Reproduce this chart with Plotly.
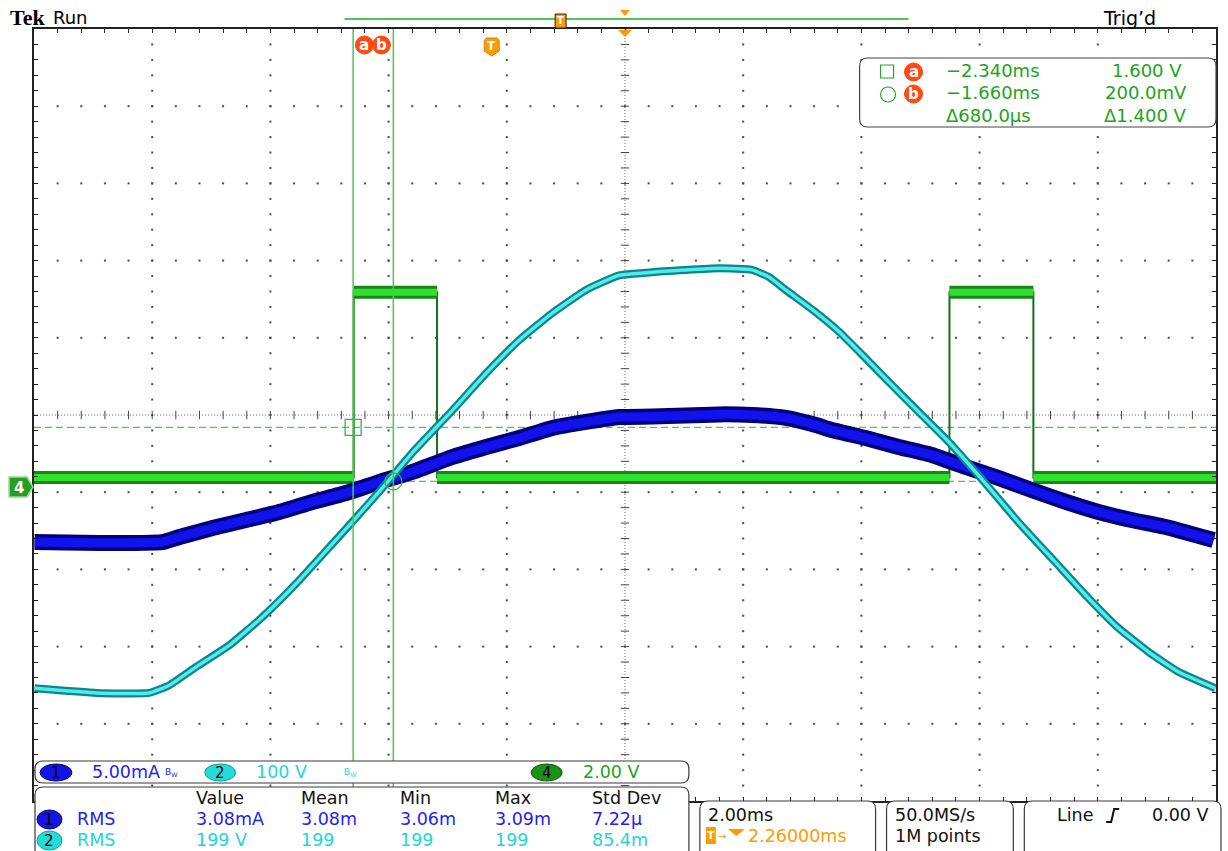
import plotly.graph_objects as go

# ---------------- Data ----------------
H_POS_MS = 2.26          # horizontal delay = time at screen centre
MS_PER_DIV = 2.0
CH1_MA_PER_DIV = 5.0
CH2_V_PER_DIV = 100.0
CH4_V_PER_DIV = 2.0
CH1_OFFSET_DIV = -0.84
CH2_OFFSET_DIV = -0.84
CH4_OFFSET_DIV = -0.96

CH1_TIME_MS = [-7.73, -6.63, -5.57, -5.28, -4.72, -4.15, -3.59, -3.03, -2.46, -1.90,
               -1.34, -0.66, -0.09, 0.47, 1.03, 1.60, 2.16, 2.72, 3.85, 4.41,
               4.98, 5.49, 5.76, 6.33, 6.89, 7.45, 8.03, 8.58, 9.14, 9.72,
               10.27, 10.83, 11.41, 12.22]
CH1_CURRENT_MA = [-4.03, -4.09, -4.03, -3.70, -3.12, -2.60, -2.08, -1.43, -0.85, -0.14,
                  0.51, 1.48, 2.13, 2.71, 3.36, 3.75, 4.07, 4.10, 4.24, 4.20,
                  4.01, 3.55, 3.23, 2.71, 2.13, 1.61, 0.83, 0.12, -0.66, -1.43,
                  -2.08, -2.60, -3.05, -3.90]

CH2_TIME_MS = [-7.73, -6.68, -5.79, -5.45, -4.99, -4.43, -3.88, -3.30, -2.74, -2.36,
               -1.85, -1.34, -0.66, -0.09, 0.47, 1.03, 1.60, 2.16, 2.72, 3.85,
               4.41, 4.69, 4.98, 5.49, 5.88, 6.30, 6.72, 7.23, 7.74, 8.33,
               8.92, 9.51, 10.10, 10.61, 11.12, 11.63, 12.25]
CH2_VOLT = [-270, -276, -276, -266, -242, -214, -178, -134, -87, -55,
            -11, 35, 90, 138, 181, 216, 246, 265, 269, 274,
            272, 263, 246, 217, 192, 160, 127, 88, 49, -2,
            -55, -104, -153, -192, -223, -249, -270]

CH4_TIME_MS = [-7.74, -2.33, -2.33, -0.92, -0.92, 7.75, 7.75, 9.17, 9.17, 12.26]
CH4_VOLT = [0.3, 0.3, 5.1, 5.1, 0.3, 0.3, 5.1, 5.1, 0.3, 0.3]

CURSOR_TIME_MS = [-2.340, -1.660]
CURSOR_VOLT = [1.600, 0.200]
CURSOR_READOUT = [["\u22122.340ms", "1.600 V"], ["\u22121.660ms", "200.0mV"], ["\u0394680.0\u00b5s", "\u03941.400 V"]]

MEAS_HEADERS = ["Value", "Mean", "Min", "Max", "Std Dev"]
MEAS_CH1 = ["3.08mA", "3.08m", "3.06m", "3.09m", "7.22\u00b5"]
MEAS_CH2 = ["199 V", "199", "199", "199", "85.4m"]

# ---------------- Layout geometry helpers ----------------
W, H = 1228, 851
L, R, T, B = 34, 1218, 29, 801
PW, PH = R - L, B - T
FONT = "DejaVu Sans"

BLUE_TXT = "#2222f2"
CYAN_TXT = "#1fd6d6"
GREEN_TXT = "#22a322"
ORANGE = "#ff9a00"
RED = "#ff4a12"
CUR_GREEN = "#4cc94c"


def X(px):
    return (px - L) / PW


def Y(py):
    return (B - py) / PH


def to_div(vals, per_div, offset):
    return [v / per_div + offset for v in vals]


shapes = []
anns = []


def text(px, py, s, size=17, color="#000", anchor="left", family=FONT):
    anns.append(dict(x=X(px), y=Y(py), xref="paper", yref="paper", text=s,
                     showarrow=False, xanchor=anchor, yanchor="middle",
                     font=dict(size=size, color=color, family=family), borderpad=0))


def path_px(pts, close=True):
    d = "M" + " L".join(f"{X(x):.5f},{Y(y):.5f}" for x, y in pts)
    return d + (" Z" if close else "")


def rrect(x0, y0, x1, y1, r, fill="white", line="#3a3a3a", lw=1.2):
    d = (f"M{X(x0 + r)},{Y(y0)} L{X(x1 - r)},{Y(y0)} Q{X(x1)},{Y(y0)} {X(x1)},{Y(y0 + r)} "
         f"L{X(x1)},{Y(y1 - r)} Q{X(x1)},{Y(y1)} {X(x1 - r)},{Y(y1)} "
         f"L{X(x0 + r)},{Y(y1)} Q{X(x0)},{Y(y1)} {X(x0)},{Y(y1 - r)} "
         f"L{X(x0)},{Y(y0 + r)} Q{X(x0)},{Y(y0)} {X(x0 + r)},{Y(y0)} Z")
    shapes.append(dict(type="path", path=d, xref="paper", yref="paper",
                       fillcolor=fill, line=dict(color=line, width=lw), layer="above"))


def ellipse(x0, y0, x1, y1, fill, line=None):
    shapes.append(dict(type="circle", xref="paper", yref="paper",
                       x0=X(x0), x1=X(x1), y0=Y(y1), y1=Y(y0), fillcolor=fill,
                       line=dict(color=line or fill, width=1), layer="above"))


fig = go.Figure()

# ---------------- Graticule ----------------
x_left = H_POS_MS - 5 * MS_PER_DIV
x_right = H_POS_MS + 5 * MS_PER_DIV
major_x = [H_POS_MS + MS_PER_DIV * k for k in range(-4, 5) if k != 0]
minor_x = [H_POS_MS + MS_PER_DIV * k / 5 for k in range(-24, 25)]
major_y = [k for k in range(-4, 5) if k != 0]
minor_y = [k / 5 for k in range(-24, 25)]

gx, gy = [], []
for mx in major_x:
    for my in minor_y:
        gx.append(mx); gy.append(my)
for my in major_y:
    for mx in minor_x:
        gx.append(mx); gy.append(my)
fig.add_trace(go.Scatter(x=gx, y=gy, mode="markers",
                         marker=dict(symbol="square", size=2, color="#4a4a4a", line=dict(width=0)),
                         hoverinfo="skip"))
# centre lines
fig.add_trace(go.Scatter(x=[x_left, x_right], y=[0, 0], mode="lines",
                         line=dict(color="#6a6a6a", width=1, dash="1px,2px"), hoverinfo="skip"))
fig.add_trace(go.Scatter(x=[H_POS_MS, H_POS_MS], y=[-5, 5], mode="lines",
                         line=dict(color="#6a6a6a", width=1, dash="1px,2px"), hoverinfo="skip"))
fig.add_trace(go.Scatter(x=minor_x, y=[0] * len(minor_x), mode="markers",
                         marker=dict(symbol="line-ns", size=6, color="#444", line=dict(width=1, color="#444")),
                         hoverinfo="skip"))
fig.add_trace(go.Scatter(x=[H_POS_MS] * len(minor_y), y=minor_y, mode="markers",
                         marker=dict(symbol="line-ew", size=6, color="#444", line=dict(width=1, color="#444")),
                         hoverinfo="skip"))

# ---------------- Horizontal cursors (behind traces) ----------------
cur_y = to_div(CURSOR_VOLT, CH4_V_PER_DIV, CH4_OFFSET_DIV)
for cy in cur_y:
    fig.add_trace(go.Scatter(x=[x_left, x_right], y=[cy, cy], mode="lines",
                             line=dict(color=CUR_GREEN, width=1.3, dash="7px,4px"), hoverinfo="skip"))

# ---------------- Channel 4 (green, digital pulse) ----------------
ch4_y = to_div(CH4_VOLT, CH4_V_PER_DIV, CH4_OFFSET_DIV)
fig.add_trace(go.Scatter(x=CH4_TIME_MS, y=ch4_y, mode="lines",
                         line=dict(color="#16701a", width=2), hoverinfo="skip"))
bx, by = [], []
for i in range(len(CH4_TIME_MS) - 1):
    if CH4_VOLT[i] == CH4_VOLT[i + 1]:
        bx += [CH4_TIME_MS[i], CH4_TIME_MS[i + 1], None]
        by += [ch4_y[i], ch4_y[i + 1], None]
fig.add_trace(go.Scatter(x=bx, y=by, mode="lines", line=dict(color="#1a861a", width=13),
                         hoverinfo="skip"))
fig.add_trace(go.Scatter(x=bx, y=by, mode="lines", line=dict(color="#2fe02f", width=7),
                         hoverinfo="skip"))

# ---------------- Channel 1 (blue, current) ----------------
ch1_y = to_div(CH1_CURRENT_MA, CH1_MA_PER_DIV, CH1_OFFSET_DIV)
fig.add_trace(go.Scatter(x=CH1_TIME_MS, y=ch1_y, mode="lines",
                         line=dict(color="#00007c", width=16, shape="spline", smoothing=0.4),
                         hoverinfo="skip"))
fig.add_trace(go.Scatter(x=CH1_TIME_MS, y=ch1_y, mode="lines",
                         line=dict(color="#1212ee", width=9, shape="spline", smoothing=0.4),
                         hoverinfo="skip"))

# ---------------- Channel 2 (cyan, line voltage) ----------------
ch2_y = to_div(CH2_VOLT, CH2_V_PER_DIV, CH2_OFFSET_DIV)
fig.add_trace(go.Scatter(x=CH2_TIME_MS, y=ch2_y, mode="lines",
                         line=dict(color="#0a868c", width=8, shape="spline", smoothing=0.4),
                         hoverinfo="skip"))
fig.add_trace(go.Scatter(x=CH2_TIME_MS, y=ch2_y, mode="lines",
                         line=dict(color="#52eaea", width=3.5, shape="spline", smoothing=0.4),
                         hoverinfo="skip"))

# ---------------- Vertical cursors + markers ----------------
for ct in CURSOR_TIME_MS:
    fig.add_trace(go.Scatter(x=[ct, ct], y=[-5, 5], mode="lines",
                             line=dict(color=CUR_GREEN, width=1.5), hoverinfo="skip"))
fig.add_trace(go.Scatter(x=[CURSOR_TIME_MS[0]], y=[cur_y[0]], mode="markers",
                         marker=dict(symbol="square-open", size=16, color="#33b833",
                                     line=dict(color="#33b833", width=1.3)),
                         hoverinfo="skip"))
fig.add_trace(go.Scatter(x=[CURSOR_TIME_MS[1]], y=[cur_y[1]], mode="markers",
                         marker=dict(symbol="circle-open", size=17, color="#33b833",
                                     line=dict(color="#33b833", width=1.3)),
                         hoverinfo="skip"))

# ---------------- Header area ----------------
text(9, 18, "<b>Tek</b>", size=22, family="Liberation Serif")
text(52, 18, "Run", size=18)
text(1104, 18, "Trig\u2019d", size=19)

# record bar
shapes.append(dict(type="line", xref="paper", yref="paper", x0=X(345), x1=X(910), y0=Y(19), y1=Y(19),
                   line=dict(color="#55c455", width=2), layer="above"))
shapes.append(dict(type="rect", xref="paper", yref="paper", x0=X(556), x1=X(567), y0=Y(28), y1=Y(14),
                   fillcolor=ORANGE, line=dict(color="#222", width=1), layer="above"))
text(561.5, 21, "<b>T</b>", size=10, color="white", anchor="center")
shapes.append(dict(type="path", xref="paper", yref="paper", path=path_px([(621, 10), (631, 10), (626, 16)]),
                   fillcolor=ORANGE, line=dict(width=0), layer="above"))
shapes.append(dict(type="path", xref="paper", yref="paper", path=path_px([(619, 30), (633, 30), (626, 37)]),
                   fillcolor=ORANGE, line=dict(width=0), layer="above"))
# trigger position badge
shapes.append(dict(type="path", xref="paper", yref="paper",
                   path=path_px([(485, 41), (487, 38), (498, 38), (500, 41), (500, 51), (492.5, 56), (485, 51)]),
                   fillcolor=ORANGE, line=dict(color="#e08000", width=1), layer="above"))
text(492.5, 46, "<b>T</b>", size=12, color="white", anchor="center")
# cursor a/b badges
ellipse(356, 36, 374, 54, RED)
ellipse(373, 36, 391, 54, RED)
text(365, 45, "<b>a</b>", size=15, color="white", anchor="center")
text(382, 45, "<b>b</b>", size=15, color="white", anchor="center")

# ch4 ground marker on left
shapes.append(dict(type="path", xref="paper", yref="paper",
                   path=path_px([(9, 477), (27, 477), (33, 487), (27, 497), (9, 497)]),
                   fillcolor="#23a023", line=dict(color="#9ad89a", width=1.5), layer="above"))
text(19, 488, "<b>4</b>", size=15, color="white", anchor="center")

# ---------------- Cursor readout box ----------------
rrect(861, 58, 1218, 127, 8, line="#444")
shapes.append(dict(type="rect", xref="paper", yref="paper", x0=X(882), x1=X(895), y0=Y(78), y1=Y(65),
                   fillcolor="rgba(0,0,0,0)", line=dict(color="#2aa52a", width=1.2), layer="above"))
shapes.append(dict(type="circle", xref="paper", yref="paper", x0=X(882), x1=X(897), y0=Y(102), y1=Y(87),
                   fillcolor="rgba(0,0,0,0)", line=dict(color="#2aa52a", width=1.2), layer="above"))
ellipse(906, 63, 924, 81, RED)
ellipse(906, 85, 924, 103, RED)
text(915, 72, "<b>a</b>", size=15, color="white", anchor="center")
text(915, 94, "<b>b</b>", size=15, color="white", anchor="center")
row_y = [71, 93, 116]
val_x = [1113, 1106, 1105]
for i, (tt, vv) in enumerate(CURSOR_READOUT):
    text(947, row_y[i], tt, size=18, color=GREEN_TXT)
    text(val_x[i], row_y[i], vv, size=18, color=GREEN_TXT)

# ---------------- Bottom panels ----------------
rrect(35, 761, 690, 783, 8)
rrect(35, 787, 690, 870, 8)
rrect(701, 801, 877, 870, 8)
rrect(888, 801, 1015, 870, 8)
rrect(1026, 801, 1223, 870, 8)

# channel scale row
ellipse(40, 764, 72, 781, "#1414e6", "#000070")
text(56, 772.5, "1", size=15, color="black", anchor="center")
text(91, 772, "5.00mA", size=17.5, color=BLUE_TXT)
text(164, 772, "B<sub>W</sub>", size=9, color=BLUE_TXT)
ellipse(205, 764, 236, 781, "#26dada", "#0a9a9a")
text(220.5, 772.5, "2", size=15, color="black", anchor="center")
text(255, 772, "100 V", size=17.5, color=CYAN_TXT)
text(344, 772, "B<sub>W</sub>", size=9, color=CYAN_TXT)
ellipse(532, 764, 563, 781, "#179317", "#0a5a0a")
text(547.5, 772.5, "4", size=15, color="black", anchor="center")
text(583, 772, "2.00 V", size=17.5, color=GREEN_TXT)

# measurements
col_x = [195, 300, 400, 495, 592]
for cx, hd in zip(col_x, MEAS_HEADERS):
    text(cx, 798, hd, size=17.5, color="#111")
ellipse(37, 810, 62, 829, "#1414e6", "#000070")
text(49.5, 819.5, "1", size=15, color="black", anchor="center")
text(76, 819, "RMS", size=17.5, color=BLUE_TXT)
ellipse(37, 831, 62, 850, "#26dada", "#0a9a9a")
text(49.5, 840.5, "2", size=15, color="black", anchor="center")
text(76, 840, "RMS", size=17.5, color=CYAN_TXT)
for cx, v1, v2 in zip(col_x, MEAS_CH1, MEAS_CH2):
    text(cx, 819, v1, size=17.5, color=BLUE_TXT)
    text(cx, 840, v2, size=17.5, color=CYAN_TXT)

# horizontal panel
text(708, 815, "2.00ms", size=17.5, color="#111")
shapes.append(dict(type="rect", xref="paper", yref="paper", x0=X(707), x1=X(717), y0=Y(844), y1=Y(827),
                   fillcolor=ORANGE, line=dict(width=0), layer="above"))
text(712, 835.5, "<b>T</b>", size=11, color="white", anchor="center")
text(718, 836, "\u2192", size=10, color=ORANGE)
shapes.append(dict(type="path", xref="paper", yref="paper", path=path_px([(729, 829), (746, 829), (737.5, 836)]),
                   fillcolor=ORANGE, line=dict(width=0), layer="above"))
text(748, 836, "2.26000ms", size=17.5, color=ORANGE)

# acquisition panel
text(895, 815, "50.0MS/s", size=17.5, color="#111")
text(895, 836, "1M points", size=17.5, color="#111")

# trigger panel
text(1058, 815, "Line", size=17.5, color="#111")
shapes.append(dict(type="path", xref="paper", yref="paper",
                   path=path_px([(1108, 822), (1113, 822), (1116, 809), (1121, 809)], close=False),
                   fillcolor="rgba(0,0,0,0)", line=dict(color="#111", width=2), layer="above"))
text(1212, 815, "0.00 V", size=17.5, color="#111", anchor="right")

fig.update_layout(
    width=W, height=H, autosize=False,
    margin=dict(l=L, r=W - R, t=T, b=H - B, pad=0),
    paper_bgcolor="white", plot_bgcolor="white",
    showlegend=False, hovermode=False,
    font=dict(family=FONT),
    shapes=shapes, annotations=anns,
    xaxis=dict(range=[x_left, x_right], showgrid=False, zeroline=False, showline=True,
               linecolor="#222", linewidth=1.5, mirror="ticks", ticks="inside", ticklen=4,
               tickcolor="#222", tickwidth=1, tick0=H_POS_MS, dtick=MS_PER_DIV / 5,
               showticklabels=False, fixedrange=True),
    yaxis=dict(range=[-5, 5], showgrid=False, zeroline=False, showline=True,
               linecolor="#222", linewidth=1.5, mirror="ticks", ticks="inside", ticklen=4,
               tickcolor="#222", tickwidth=1, tick0=0, dtick=0.2,
               showticklabels=False, fixedrange=True),
)

fig.write_html("out.html", config={"displayModeBar": False},
               post_script="document.body.style.margin='0';document.body.style.overflow='hidden';")
